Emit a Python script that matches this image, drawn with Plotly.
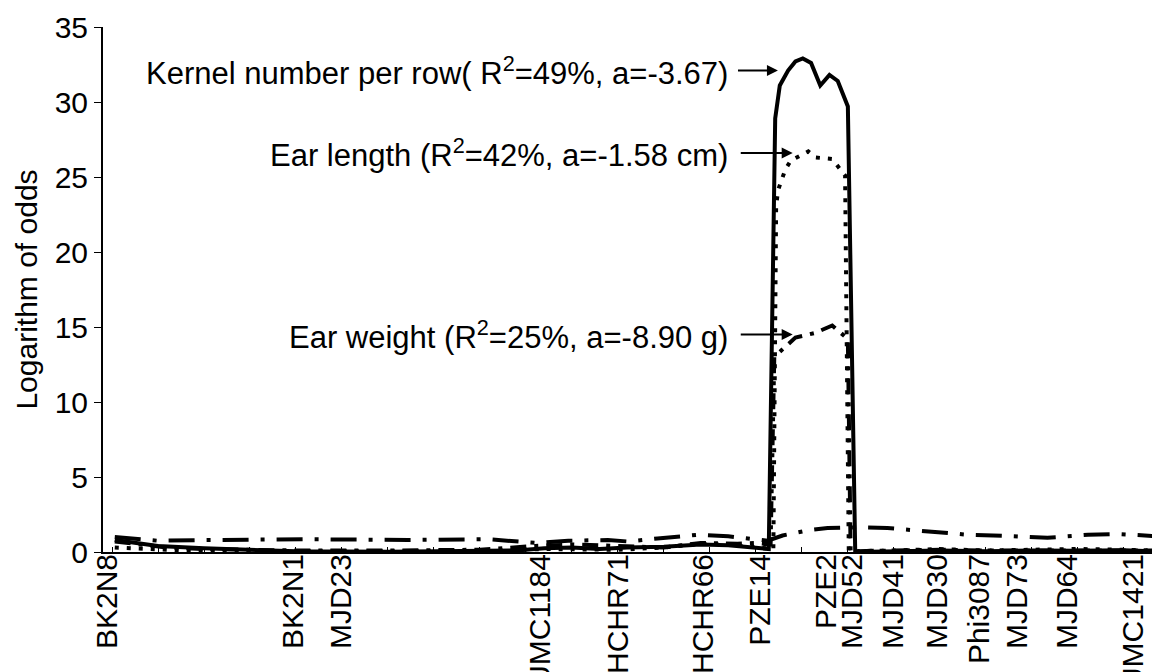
import plotly.graph_objects as go

# Marker names and map positions (cM)
markers = ["BK2N8", "BK2N1", "MJD23", "UMC1184", "HCHR71", "HCHR66", "PZE14", "PZE2",
           "MJD52", "MJD41", "MJD30", "Phi3087", "MJD73", "MJD64", "UMC1421"]
marker_pos = [-0.5, 19.7, 24.9, 46.6, 55.0, 64.3, 70.5, 77.7, 80.5, 84.9, 89.7, 94.3, 98.4, 103.8, 111.0]

# Kernel number per row (solid)
knr_x = [0.3, 2.5, 5, 10, 14, 20, 30, 40, 44, 47, 50, 53, 56, 60, 64, 67, 70, 71.4,
         72.1, 72.6, 73.5, 74.3, 75.1, 76.0, 77.0, 78.0, 78.9, 80.0, 80.8,
         85, 90, 95, 100, 105, 110, 113.3]
knr_y = [0.8, 0.6, 0.4, 0.25, 0.15, 0.05, 0.02, 0.05, 0.1, 0.25, 0.3, 0.2, 0.3, 0.35, 0.5, 0.45, 0.3, 0.2,
         28.9, 31.1, 32.1, 32.7, 32.9, 32.6, 31.1, 31.8, 31.4, 29.7, 0.0,
         0.02, 0.1, 0.05, 0.1, 0.08, 0.12, 0.05]

# Ear length (dotted)
el_x = [0.3, 5, 10, 20, 40, 47, 55, 60, 64, 67, 70, 71.9,
        72.2, 72.4, 72.8, 73.2, 73.8, 75.7, 76.5, 78.3, 79.7, 80.1,
        85, 90, 95, 100, 105, 110, 113.3]
el_y = [0.3, 0.15, 0.05, 0.05, 0.05, 0.2, 0.15, 0.3, 0.55, 0.5, 0.3, 0.2,
        23.0, 24.1, 24.8, 25.5, 26.1, 26.7, 26.3, 26.2, 25.1, 0.05,
        0.1, 0.2, 0.1, 0.15, 0.2, 0.15, 0.1]

# Ear weight (dash)
ew_x = [0.3, 3, 6, 10, 20, 30, 40, 46, 50, 55, 60, 64, 68, 70, 71.6,
        72.0, 72.7, 74.3, 76.4, 78.3, 80.0, 80.3,
        85, 90, 95, 100, 105, 110, 113.3]
ew_y = [0.7, 0.5, 0.3, 0.2, 0.1, 0.1, 0.15, 0.4, 0.5, 0.4, 0.3, 0.6, 0.55, 0.6, 0.5,
        13.0, 13.4, 14.3, 14.6, 15.1, 14.2, 0.05,
        0.1, 0.15, 0.1, 0.1, 0.15, 0.1, 0.1]

# Background LOD profile (long dash-dot)
bg_x = [0.3, 2.8, 5, 10.4, 21.3, 32.2, 40.9, 46.3, 49.6, 53.9, 56.1, 59.3, 63.7, 67, 69.7,
        71.3, 72.9, 75.7, 77.8, 81.1, 84.3, 86.5, 89.8, 93, 97.4, 101.7, 106.1, 109.3, 113.2]
bg_y = [1.0, 0.9, 0.75, 0.8, 0.85, 0.8, 0.85, 0.6, 0.75, 0.8, 0.7, 0.9, 1.15, 1.05, 0.85,
        0.75, 1.1, 1.45, 1.6, 1.65, 1.6, 1.5, 1.35, 1.15, 1.07, 0.95, 1.15, 1.2, 1.07]

# Annotation labels
labels = ["Kernel number per row( R<sup>2</sup>=49%, a=-3.67)",
          "Ear length (R<sup>2</sup>=42%, a=-1.58 cm)",
          "Ear weight (R<sup>2</sup>=25%, a=-8.90 g)"]
label_y = [32.1, 26.6, 14.5]
arrow_tail = [68.0, 68.3, 68.3]
arrow_tip = [72.4, 74.0, 74.0]
label_right = [67.2, 67.2, 67.2]

FONT = "Liberation Sans, Arial, sans-serif"

fig = go.Figure()
fig.add_trace(go.Scatter(x=bg_x, y=bg_y, mode="lines",
                         line=dict(color="black", width=4, dash="26px,12px,4px,12px")))
fig.add_trace(go.Scatter(x=ew_x, y=ew_y, mode="lines",
                         line=dict(color="black", width=4, dash="16px,8px,4px,8px")))
fig.add_trace(go.Scatter(x=el_x, y=el_y, mode="lines",
                         line=dict(color="black", width=4, dash="4px,8px")))
fig.add_trace(go.Scatter(x=knr_x, y=knr_y, mode="lines",
                         line=dict(color="black", width=4)))

for t, y, xr, xt, xh in zip(labels, label_y, label_right, arrow_tail, arrow_tip):
    fig.add_annotation(x=xr, y=y, xref="x", yref="y", text=t, showarrow=False,
                       xanchor="right", yanchor="middle",
                       font=dict(family=FONT, size=31, color="black"))
    fig.add_annotation(x=xh, y=y, xref="x", yref="y", ax=xt, ay=y, axref="x", ayref="y",
                       text="", showarrow=True, arrowhead=2, arrowsize=1.1,
                       arrowwidth=2, arrowcolor="black", standoff=0,
                       borderpad=0, font=dict(size=1))

fig.update_layout(
    width=1160, height=672,
    margin=dict(l=95, r=12, t=19, b=128, autoexpand=False),
    paper_bgcolor="white", plot_bgcolor="white",
    showlegend=False,
    font=dict(family=FONT, size=30, color="black"),
)
fig.update_xaxes(
    automargin=False,
    range=[-0.98, 113.5], tickmode="array", tickvals=marker_pos, ticktext=markers,
    tickangle=-90, ticks="", showgrid=False, zeroline=False,
    showline=True, linecolor="black", linewidth=2,
    ticklabelstandoff=-12,
    minor=dict(ticks="inside", ticklen=5, tickcolor="black", dtick=5, tick0=0, showgrid=False),
    tickfont=dict(family=FONT, size=30, color="black"),
)
fig.update_yaxes(
    automargin=False,
    range=[0, 35], dtick=5, ticks="outside", ticklen=7, tickcolor="black",
    showgrid=False, zeroline=False, showline=True, linecolor="black", linewidth=2,
    title=dict(text="Logarithm of odds", standoff=8,
               font=dict(family=FONT, size=30, color="black")),
    tickfont=dict(family=FONT, size=30, color="black"),
)

fig.write_html("out.html")
